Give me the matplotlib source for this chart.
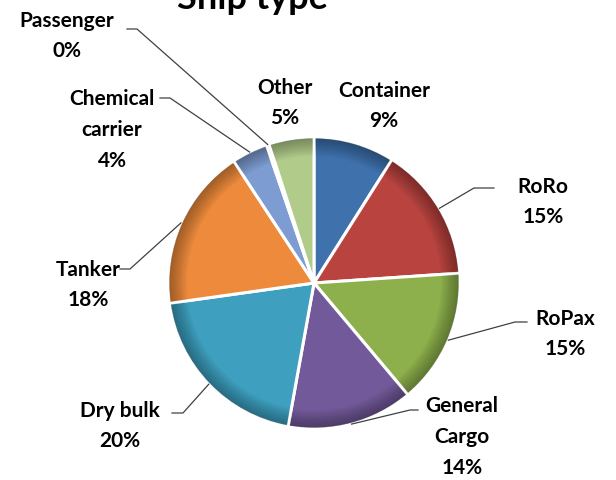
import matplotlib.pyplot as plt
from matplotlib.patches import Wedge
import numpy as np

# data
categories = ['Container', 'RoRo', 'RoPax', 'General\nCargo', 'Dry bulk', 'Tanker',
              'Chemical\ncarrier', 'Passenger', 'Other']
values = [9, 15, 15, 14, 20, 18, 4, 0.3, 5]
colors = ['#3f71ad', '#b8433f', '#8db04c', '#725a9a', '#3e9fbf', '#ed8a3c',
          '#7d9dd2', '#d99694', '#b1cc8a']

# label layout (pixel positions, y from top): text centre, and leader elbow points
label_pos = [(384, 106), (543, 202), (565, 334), (462, 437), (120, 426), (88, 285),
             (112, 130), (67, 36), (285, 103)]
leaders = {1: [(474, 188), (494, 188)],
           2: [(515, 322), (527, 322)],
           3: [(410, 410), (418, 410)],
           4: [(183, 413), (172, 413)],
           5: [(130, 269), (120, 269)],
           6: [(170, 98), (160, 98)],
           7: [(137, 29), (127, 29)]}

W, H = 616, 480
fig = plt.figure(figsize=(W / 100, H / 100), dpi=100)
ax = fig.add_axes([0, 0, 1, 1])

cx, cy, r = 314, H - 283, 146
wedges, _ = ax.pie(values, colors=colors, startangle=90, counterclock=False,
                   center=(cx, cy), radius=r, frame=True,
                   wedgeprops=dict(edgecolor='white', linewidth=2.2))
ax.set_xlim(0, W)
ax.set_ylim(0, H)
ax.axis('off')

# soft darkening towards the rim of every slice
for w in wedges:
    for k in range(8):
        ax.add_patch(Wedge((cx, cy), r - 1.2, w.theta1 + 0.5, w.theta2 - 0.5,
                           width=2 + k * 2.2, facecolor='black', alpha=0.045,
                           edgecolor='none', zorder=w.get_zorder() + 0.1))

total = sum(values)
font = ['Lato', 'DejaVu Sans']
for i, w in enumerate(wedges):
    pct = round(values[i] / total * 100)
    tx, ty = label_pos[i]
    ax.text(tx, H - ty, f'{categories[i]}\n{pct}%', ha='center', va='center',
            fontsize=15, fontweight='bold', family=font, linespacing=1.66)
    if i in leaders:
        ang = np.deg2rad((w.theta1 + w.theta2) / 2)
        px, py = cx + r * np.cos(ang), cy + r * np.sin(ang)
        xs = [px] + [p[0] for p in leaders[i]]
        ys = [py] + [H - p[1] for p in leaders[i]]
        ax.plot(xs, ys, color='#404040', lw=0.9)

ax.text(252, H - 9, 'Ship type', ha='center', va='baseline', fontsize=26,
        fontweight='bold', family=font)

fig.savefig('out.png', dpi=100)
